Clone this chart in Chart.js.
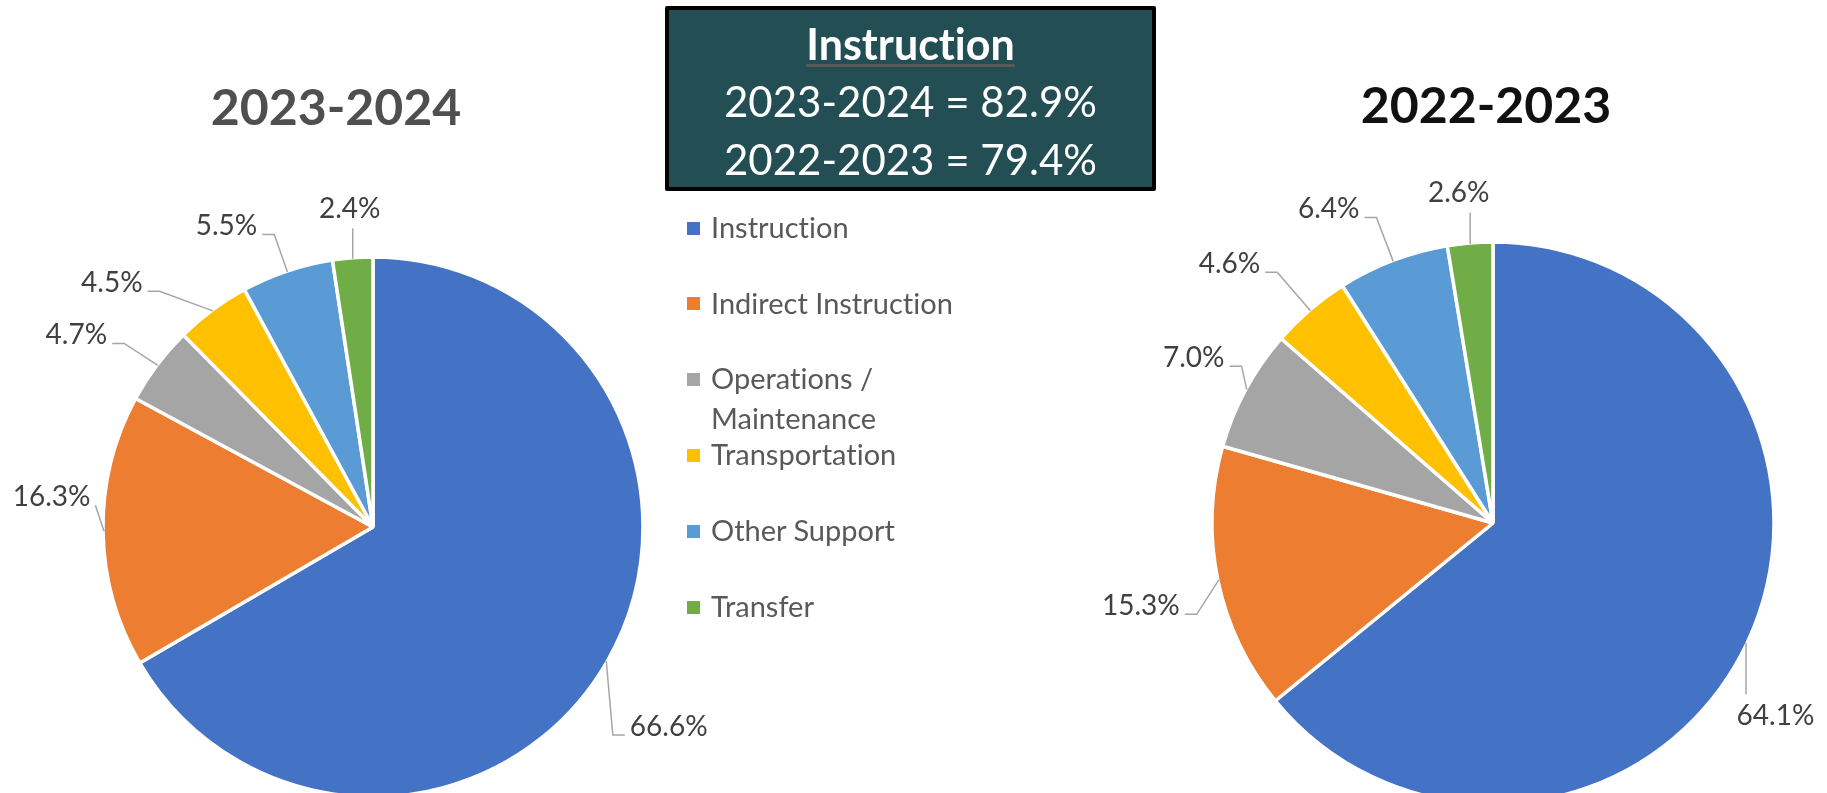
<!DOCTYPE html>
<html>
<head>
<meta charset="utf-8">
<script src="https://cdn.jsdelivr.net/npm/chart.js@4.4.1/dist/chart.umd.min.js"></script>
<style>
    html, body { margin: 0; padding: 0; background: #fff; }
    #stage { position: relative; width: 1827px; height: 793px; overflow: hidden; font-family: Lato, "Open Sans", sans-serif;
             font-variant-ligatures: none; font-feature-settings: "liga" 0, "clig" 0; }
    #stage canvas { position: absolute; left: 0; top: 0; }
    .txt { position: absolute; white-space: nowrap; line-height: 1.2; text-align: center; }
    .title { font-size: 50px; font-weight: bold; width: 400px; }
    #box { position: absolute; left: 665px; top: 6px; width: 491px; height: 185px; box-sizing: border-box;
           border: 4px solid #000; border-radius: 2px; background: #234e54; }
    .boxline { color: #fff; left: 660px; width: 501px; font-size: 42px; }
    #boxHead { font-size: 43px; font-weight: bold; text-decoration: underline; text-decoration-color: #5a5a5a;
               text-decoration-thickness: 3px; text-underline-offset: 4px; }
    .lgMark { position: absolute; width: 13px; height: 13px; left: 687px; }
    .lgText { position: absolute; left: 711px; width: 265px; font-size: 29px; line-height: 40px; color: #595959; }
</style>
</head>
<body>
<div id="stage">
    <canvas id="pieLeft" width="1827" height="900"></canvas>
    <canvas id="pieRight" width="1827" height="900"></canvas>

    <div id="titleLeft" class="txt title" style="left:136px; top:75.6px; color:#4f4f4f;"></div>
    <div id="titleRight" class="txt title" style="left:1286px; top:73.6px; color:#111;"></div>

    <div id="box"></div>
    <div class="txt boxline" style="top:17.6px;"><span id="boxHead"></span></div>
    <div id="boxLine1" class="txt boxline" style="top:75.5px;"></div>
    <div id="boxLine2" class="txt boxline" style="top:133.5px;"></div>

    <div id="legend"></div>
</div>

<script>
// Datos
const categories = ["Instruction", "Indirect Instruction", "Operations / Maintenance", "Transportation", "Other Support", "Transfer"];
const years = ["2023-2024", "2022-2023"];
const values2324 = [66.6, 16.3, 4.7, 4.5, 5.5, 2.4];
const values2223 = [64.1, 15.3, 7.0, 4.6, 6.4, 2.6];
const instructionTotals = [82.9, 79.4];
const boxHeading = "Instruction";

// Estilo
const sliceColors = ["#4472C4", "#ED7D31", "#A5A5A5", "#FFC000", "#5B9BD5", "#70AD47"];

// Label nudges from each slice's edge point (layout only)
const labelOffsetsLeft = [[62.5, 64.5], [-52.5, -35.5], [-81.5, -31.5], [-101, -29], [-61, -47], [-3, -50.5]];
const labelOffsetsRight = [[29.5, 71.5], [-78, 25], [-53, -33], [-81, -48], [-64.5, -53.5], [-11.5, -51.5]];

// Percentage labels with leader lines, like the spreadsheet version
const leaderLabels = {
    id: "leaderLabels",
    afterDatasetsDraw(chart, args, opts) {
        const ctx = chart.ctx;
        const values = chart.data.datasets[0].data;
        const arcs = chart.getDatasetMeta(0).data;
        ctx.save();
        ctx.font = opts.font;
        arcs.forEach((arc, i) => {
            const p = arc.getProps(["x", "y", "startAngle", "endAngle", "outerRadius"], true);
            const mid = (p.startAngle + p.endAngle) / 2;
            const ex = p.x + Math.cos(mid) * (p.outerRadius - 1);
            const ey = p.y + Math.sin(mid) * (p.outerRadius - 1);
            const cx = ex + opts.offsets[i][0];
            const cy = ey + opts.offsets[i][1];
            const text = values[i].toFixed(1) + "%";
            const w = ctx.measureText(text).width;
            const left = cx - w / 2, right = cx + w / 2;
            const baseline = cy + 10;

            ctx.beginPath();
            if (ex >= left && ex <= right) {
                ctx.moveTo(ex, ey);
                ctx.lineTo(ex, cy < ey ? baseline + 10 : cy - 20);
            } else {
                const toRight = cx > ex;
                const ax = toRight ? left - 5 : right + 5;
                const ay = baseline - 0.5;
                ctx.moveTo(ax, ay);
                if (Math.abs(ex - ax) > 15) ctx.lineTo(ax + (toRight ? -12 : 12), ay);
                ctx.lineTo(ex, ey);
            }
            ctx.strokeStyle = opts.lineColor;
            ctx.lineWidth = 1.5;
            ctx.stroke();

            ctx.fillStyle = opts.color;
            ctx.textAlign = "left";
            ctx.textBaseline = "alphabetic";
            ctx.fillText(text, left, baseline);
        });
        ctx.restore();
    }
};

function crearPie(canvasId, values, radius, padding, offsets) {
    return new Chart(document.getElementById(canvasId).getContext("2d"), {
        type: "pie",
        data: {
            labels: categories,
            datasets: [{
                data: values,
                backgroundColor: sliceColors,
                borderColor: "#ffffff",
                borderWidth: 3.5,
                radius: radius
            }]
        },
        options: {
            responsive: false,
            animation: false,
            events: [],
            layout: { padding: padding },
            plugins: {
                legend: { display: false },
                tooltip: { enabled: false },
                leaderLabels: {
                    offsets: offsets,
                    font: "28px Lato, 'Open Sans', sans-serif",
                    color: "#404040",
                    lineColor: "#a6a6a6"
                }
            }
        },
        plugins: [leaderLabels]
    });
}

crearPie("pieLeft", values2324, 270, { left: 0, right: 1081, top: 154, bottom: 0 }, labelOffsetsLeft);
crearPie("pieRight", values2223, 281, { left: 1159, right: 0, top: 146, bottom: 0 }, labelOffsetsRight);

// Titles and summary box
document.getElementById("titleLeft").textContent = years[0];
document.getElementById("titleRight").textContent = years[1];
document.getElementById("boxHead").textContent = boxHeading;
document.getElementById("boxLine1").textContent = `${years[0]} = ${instructionTotals[0].toFixed(1)}%`;
document.getElementById("boxLine2").textContent = `${years[1]} = ${instructionTotals[1].toFixed(1)}%`;

// Shared legend
const legendEl = document.getElementById("legend");
categories.forEach((cat, i) => {
    const c = 228 + i * 75.8;
    const mark = document.createElement("div");
    mark.className = "lgMark";
    mark.style.top = (c - 6.5) + "px";
    mark.style.background = sliceColors[i];
    const txt = document.createElement("div");
    txt.className = "lgText";
    txt.style.top = (c - 21.2) + "px";
    txt.textContent = cat;
    legendEl.appendChild(mark);
    legendEl.appendChild(txt);
});
</script>
</body>
</html>
